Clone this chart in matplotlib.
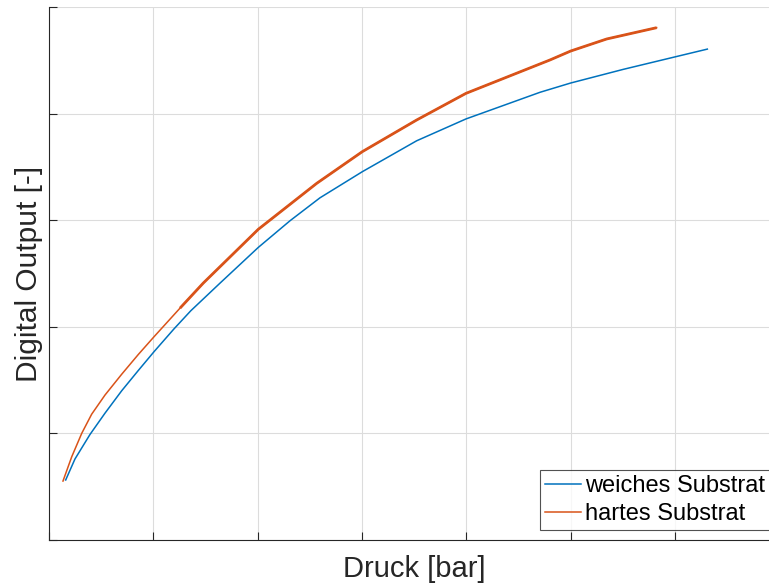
import numpy as np
import matplotlib
matplotlib.use('Agg')
from matplotlib import pyplot as plt

plt.rcParams['font.family'] = ['Liberation Sans', 'DejaVu Sans']

druck_weich = [0.160, 0.249, 0.393, 0.537, 0.697, 0.856, 1.010, 1.198, 1.359,
               1.640, 2.007, 2.311, 2.598, 3.004, 3.525, 3.998, 4.708, 5.002,
               5.506, 6.002, 6.312]
output_weich = [0.563, 0.760, 0.990, 1.190, 1.400, 1.590, 1.770, 1.980, 2.150,
                2.410, 2.745, 2.995, 3.210, 3.455, 3.745, 3.950, 4.200, 4.287,
                4.415, 4.532, 4.605]

druck_hart = [0.134, 0.218, 0.314, 0.409, 0.537, 0.697, 0.856, 1.010, 1.256,
              1.479, 2.007, 2.567, 3.004, 3.525, 3.998, 4.803, 5.002, 5.347,
              5.826]
output_hart = [0.553, 0.781, 1.001, 1.180, 1.360, 1.555, 1.740, 1.910, 2.175,
               2.410, 2.915, 3.346, 3.643, 3.940, 4.190, 4.503, 4.587, 4.700,
               4.806]
rausch_ab = 8  # ab hier rauscht das harte Substrat sichtbar

x_ticks = np.arange(0, 7)
y_ticks = np.arange(0, 6)

blau = '#0072BD'
orange = '#D95319'
achse = '#262626'

fig = plt.figure(figsize=(7.69, 5.86), dpi=100)
ax = fig.add_axes([49/769, 46/586, 720/769, 533/586])

ax.plot(druck_weich, output_weich, color=blau, lw=1.1, label='weiches Substrat')
ax.plot(druck_hart, output_hart, color=orange, lw=1.1, label='hartes Substrat')
ax.plot(druck_hart[rausch_ab:], output_hart[rausch_ab:], color=orange, lw=2.0,
        solid_capstyle='butt', solid_joinstyle='round')

ax.set_xlim(0, 720/104.3)
ax.set_ylim(0, 5)
ax.set_xticks(x_ticks)
ax.set_yticks(y_ticks)
ax.tick_params(direction='in', length=5.8, width=0.8, color=achse,
               labelbottom=False, labelleft=False)
ax.grid(True, color='#dcdcdc', lw=0.8)
ax.set_axisbelow(True)
for side in ['top', 'right']:
    ax.spines[side].set_visible(False)
for side in ['left', 'bottom']:
    ax.spines[side].set_color(achse)
    ax.spines[side].set_linewidth(0.8)

ax.set_xlabel('Druck [bar]', fontsize=21, color=achse)
ax.xaxis.set_label_coords(0.507, -0.029, transform=ax.transAxes)
ax.xaxis.label.set_va('top')
ax.set_ylabel('Digital Output [-]', fontsize=21.5, color=achse, labelpad=4)

leg = ax.legend(handles=ax.lines[:2], loc='lower left',
                bbox_to_anchor=(540/769, 56/586), bbox_transform=fig.transFigure,
                fontsize=17, frameon=True, fancybox=False, borderaxespad=0,
                handlelength=1.5, handletextpad=0.17, borderpad=0.22,
                labelspacing=0.25)
leg.get_frame().set_edgecolor(achse)
leg.get_frame().set_linewidth(0.8)
for txt in leg.get_texts():
    txt.set_color('black')

fig.savefig('out.png', dpi=100)
